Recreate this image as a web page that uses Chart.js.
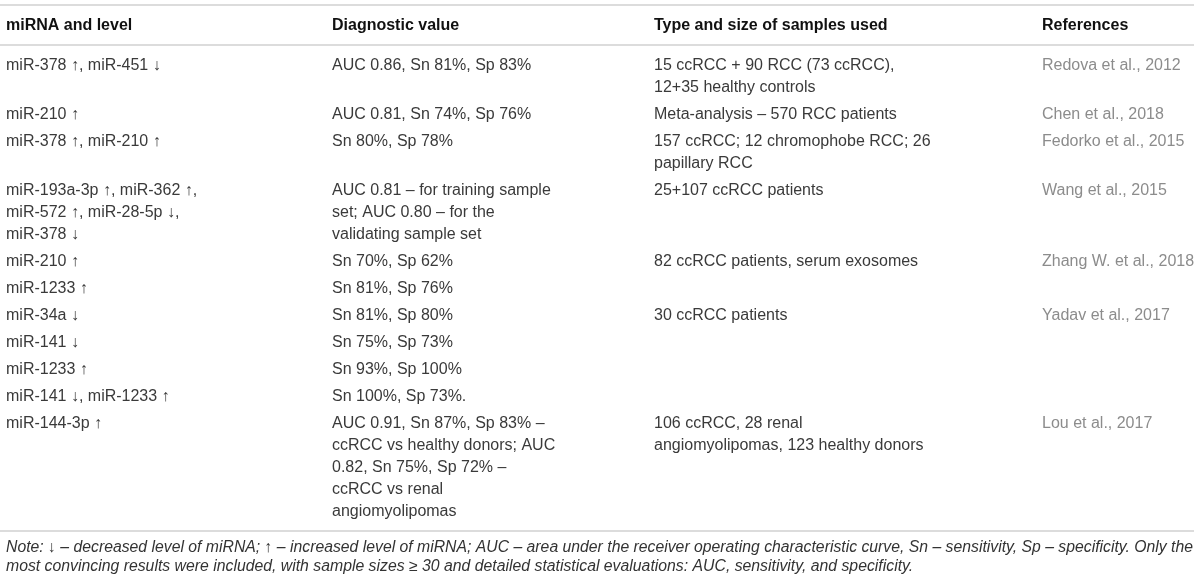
<!DOCTYPE html>
<html>
<head>
<meta charset="utf-8">
<title>miRNA diagnostic value table</title>
<script src="https://cdn.jsdelivr.net/npm/chart.js@4.4.1/dist/chart.umd.min.js"></script>
<style>
    html, body { margin: 0; padding: 0; background: #fff; }
    #wrap { width: 1200px; height: 583px; position: relative; }
</style>
</head>
<body>
<div id="wrap"><canvas id="tableChart"></canvas></div>
<script>
const headers = ['miRNA and level', 'Diagnostic value', 'Type and size of samples used', 'References'];

const mirnaLevel = [
    ['miR-378 ↑, miR-451 ↓'],
    ['miR-210 ↑'],
    ['miR-378 ↑, miR-210 ↑'],
    ['miR-193a-3p ↑, miR-362 ↑,', 'miR-572 ↑, miR-28-5p ↓,', 'miR-378 ↓'],
    ['miR-210 ↑'],
    ['miR-1233 ↑'],
    ['miR-34a ↓'],
    ['miR-141 ↓'],
    ['miR-1233 ↑'],
    ['miR-141 ↓, miR-1233 ↑'],
    ['miR-144-3p ↑']
];

const diagnosticValue = [
    ['AUC 0.86, Sn 81%, Sp 83%'],
    ['AUC 0.81, Sn 74%, Sp 76%'],
    ['Sn 80%, Sp 78%'],
    ['AUC 0.81 – for training sample', 'set; AUC 0.80 – for the', 'validating sample set'],
    ['Sn 70%, Sp 62%'],
    ['Sn 81%, Sp 76%'],
    ['Sn 81%, Sp 80%'],
    ['Sn 75%, Sp 73%'],
    ['Sn 93%, Sp 100%'],
    ['Sn 100%, Sp 73%.'],
    ['AUC 0.91, Sn 87%, Sp 83% –', 'ccRCC vs healthy donors; AUC', '0.82, Sn 75%, Sp 72% –', 'ccRCC vs renal', 'angiomyolipomas']
];

const samplesUsed = [
    ['15 ccRCC + 90 RCC (73 ccRCC),', '12+35 healthy controls'],
    ['Meta-analysis – 570 RCC patients'],
    ['157 ccRCC; 12 chromophobe RCC; 26', 'papillary RCC'],
    ['25+107 ccRCC patients'],
    ['82 ccRCC patients, serum exosomes'],
    [],
    ['30 ccRCC patients'],
    [],
    [],
    [],
    ['106 ccRCC, 28 renal', 'angiomyolipomas, 123 healthy donors']
];

const references = [
    ['Redova et al., 2012'],
    ['Chen et al., 2018'],
    ['Fedorko et al., 2015'],
    ['Wang et al., 2015'],
    ['Zhang W. et al., 2018'],
    [],
    ['Yadav et al., 2017'],
    [],
    [],
    [],
    ['Lou et al., 2017']
];

const noteLines = [
    'Note: ↓ – decreased level of miRNA; ↑ – increased level of miRNA; AUC – area under the receiver operating characteristic curve, Sn – sensitivity, Sp – specificity. Only the',
    'most convincing results were included, with sample sizes ≥ 30 and detailed statistical evaluations: AUC, sensitivity, and specificity.'
];

// layout (in page pixels, scales run 0..1200 and 0..583)
const colX = [6, 332, 654, 1042];
const headerY = 26;
const firstLineY = 66;
const lineH = 22;
const rowGap = 5;
const rules = [5, 45, 531];
const ruleEnd = 1194;
const noteY = 548;
const noteLineH = 19;

const columns = [mirnaLevel, diagnosticValue, samplesUsed, references];
const colColors = ['#3a3a3a', '#3a3a3a', '#3a3a3a', '#8c8c8c'];

// work out the y of every text line from the row structure
function buildPoints() {
    const sets = columns.map(() => []);
    let y = firstLineY;
    for (let r = 0; r < mirnaLevel.length; r++) {
        let rowLines = 1;
        columns.forEach((col, c) => {
            col[r].forEach((txt, i) => {
                sets[c].push({ x: colX[c], y: y + i * lineH, text: txt });
            });
            rowLines = Math.max(rowLines, col[r].length);
        });
        y += rowLines * lineH + rowGap;
    }
    return sets;
}

const pointSets = buildPoints();

const tablePlugin = {
    id: 'tableText',
    afterDatasetsDraw(chart) {
        const ctx = chart.ctx;
        const xs = chart.scales.x;
        const ys = chart.scales.y;
        ctx.save();

        // horizontal rules
        ctx.strokeStyle = '#dcdcdc';
        ctx.lineWidth = 2;
        rules.forEach(v => {
            const py = ys.getPixelForValue(v);
            ctx.beginPath();
            ctx.moveTo(xs.getPixelForValue(0), py);
            ctx.lineTo(xs.getPixelForValue(ruleEnd), py);
            ctx.stroke();
        });

        // header
        ctx.textBaseline = 'middle';
        ctx.textAlign = 'left';
        ctx.fillStyle = '#111';
        ctx.font = 'bold 16px "Liberation Sans", Arial, sans-serif';
        headers.forEach((h, c) => {
            ctx.fillText(h, xs.getPixelForValue(colX[c]), ys.getPixelForValue(headerY));
        });

        // cells, drawn at the points the library placed
        ctx.font = '16px "Liberation Sans", Arial, sans-serif';
        chart.data.datasets.forEach((ds, c) => {
            const meta = chart.getDatasetMeta(c);
            ctx.fillStyle = colColors[c];
            meta.data.forEach((el, i) => {
                ctx.fillText(ds.data[i].text, el.x, el.y);
            });
        });

        // note
        ctx.fillStyle = '#333';
        ctx.font = 'italic 15.8px "Liberation Sans", Arial, sans-serif';
        noteLines.forEach((t, i) => {
            ctx.fillText(t, xs.getPixelForValue(colX[0]), ys.getPixelForValue(noteY + i * noteLineH), 1187);
        });
        ctx.restore();
    }
};

new Chart(document.getElementById('tableChart'), {
    type: 'scatter',
    data: {
        datasets: pointSets.map((pts, c) => ({
            label: headers[c],
            data: pts,
            pointRadius: 0,
            pointHoverRadius: 0
        }))
    },
    options: {
        responsive: true,
        maintainAspectRatio: false,
        animation: false,
        events: [],
        layout: { padding: 0 },
        scales: {
            x: { type: 'linear', min: 0, max: 1200, display: false },
            y: { type: 'linear', min: 0, max: 583, reverse: true, display: false }
        },
        plugins: {
            legend: { display: false },
            tooltip: { enabled: false }
        }
    },
    plugins: [tablePlugin]
});
</script>
</body>
</html>
